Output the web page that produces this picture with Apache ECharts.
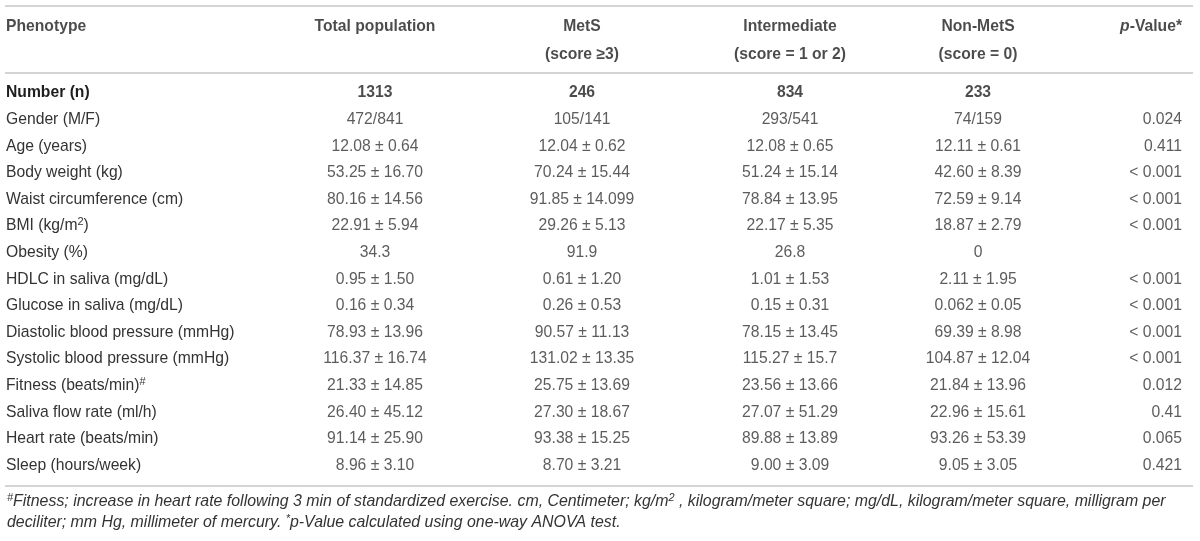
<!DOCTYPE html>
<html>
<head>
<meta charset="utf-8">
<script src="https://cdn.jsdelivr.net/npm/echarts@6.0.0/dist/echarts.min.js"></script>
<style>
  html, body { margin: 0; padding: 0; background: #fff; }
  #table-chart { width: 1200px; height: 541px; }
</style>
</head>
<body>
<div id="table-chart"></div>
<script>
var headTop = ['Phenotype', 'Total population', 'MetS', 'Intermediate', 'Non-MetS', '{it|p}{b|-Value*}'];
var headSub = ['', '', '(score ≥3)', '(score = 1 or 2)', '(score = 0)', ''];

var rowLabels = ['Number (n)', 'Gender (M/F)', 'Age (years)', 'Body weight (kg)', 'Waist circumference (cm)',
  'BMI (kg/m{sup|2})', 'Obesity (%)', 'HDLC in saliva (mg/dL)', 'Glucose in saliva (mg/dL)',
  'Diastolic blood pressure (mmHg)', 'Systolic blood pressure (mmHg)', 'Fitness (beats/min){sup|#}',
  'Saliva flow rate (ml/h)', 'Heart rate (beats/min)', 'Sleep (hours/week)'];

var totalPop = ['1313', '472/841', '12.08 ± 0.64', '53.25 ± 16.70', '80.16 ± 14.56', '22.91 ± 5.94', '34.3',
  '0.95 ± 1.50', '0.16 ± 0.34', '78.93 ± 13.96', '116.37 ± 16.74', '21.33 ± 14.85', '26.40 ± 45.12',
  '91.14 ± 25.90', '8.96 ± 3.10'];
var mets = ['246', '105/141', '12.04 ± 0.62', '70.24 ± 15.44', '91.85 ± 14.099', '29.26 ± 5.13', '91.9',
  '0.61 ± 1.20', '0.26 ± 0.53', '90.57 ± 11.13', '131.02 ± 13.35', '25.75 ± 13.69', '27.30 ± 18.67',
  '93.38 ± 15.25', '8.70 ± 3.21'];
var intermediate = ['834', '293/541', '12.08 ± 0.65', '51.24 ± 15.14', '78.84 ± 13.95', '22.17 ± 5.35', '26.8',
  '1.01 ± 1.53', '0.15 ± 0.31', '78.15 ± 13.45', '115.27 ± 15.7', '23.56 ± 13.66', '27.07 ± 51.29',
  '89.88 ± 13.89', '9.00 ± 3.09'];
var nonMets = ['233', '74/159', '12.11 ± 0.61', '42.60 ± 8.39', '72.59 ± 9.14', '18.87 ± 2.79', '0',
  '2.11 ± 1.95', '0.062 ± 0.05', '69.39 ± 8.98', '104.87 ± 12.04', '21.84 ± 13.96', '22.96 ± 15.61',
  '93.26 ± 53.39', '9.05 ± 3.05'];
var pValues = ['', '0.024', '0.411', '< 0.001', '< 0.001', '< 0.001', '', '< 0.001', '< 0.001', '< 0.001',
  '< 0.001', '0.012', '0.41', '0.065', '0.421'];

var footLine1 = '{s|#}Fitness; increase in heart rate following 3 min of standardized exercise. cm, Centimeter; kg/m{s|2} , kilogram/meter square; mg/dL, kilogram/meter square, milligram per';
var footLine2 = 'deciliter; mm Hg, millimeter of mercury. {s|*}p-Value calculated using one-way ANOVA test.';

tableChart();

function tableChart() {
  var myChart = echarts.init(document.getElementById('table-chart'));
  var font = 'Liberation Sans';
  var fs = 15.7;
  var footFs = 15.9;
  // where each column sits along the hidden x axis (0..1200)
  var colPos = [6, 375, 582, 790, 978, 1182];
  var bodyCols = [totalPop, mets, intermediate, nonMets, pValues];

  var rich = {
    b: { fontWeight: 'bold', fontSize: fs, fontFamily: font, color: '#1e1e1e' },
    it: { fontStyle: 'italic', fontWeight: 'bold', fontSize: fs, fontFamily: font, color: '#1e1e1e' },
    sup: { fontSize: 11, fontFamily: font, color: '#333', verticalAlign: 'top', lineHeight: 19 }
  };
  var footRich = {
    s: { fontSize: 11, fontStyle: 'italic', fontFamily: font, color: '#333', verticalAlign: 'top', lineHeight: 19 }
  };

  var series = [];
  // header cells
  [headTop, headSub].forEach(function(row, r) {
    row.forEach(function(t, c) {
      if (!t) return;
      series.push({
        type: 'scatter', xAxisIndex: 0, yAxisIndex: 0, symbolSize: 0, silent: true,
        data: [{ value: [colPos[c], r], text: t }],
        label: {
          show: true, position: 'inside',
          align: c === 0 ? 'left' : (c === 5 ? 'right' : 'center'),
          formatter: function(p) {
            var t = p.data.text;
            return t.charAt(0) === '{' ? t : '{b|' + t + '}';
          },
          rich: rich
        }
      });
    });
  });
  // body cells
  bodyCols.forEach(function(arr, k) {
    series.push({
      type: 'scatter', xAxisIndex: 1, yAxisIndex: 1, symbolSize: 0, silent: true,
      data: arr.map(function(t, i) { return { value: [colPos[k + 1], i], text: t }; }),
      label: {
        show: true, position: 'inside',
        align: k === 4 ? 'right' : 'center',
        fontFamily: font, fontSize: fs, color: '#333',
        formatter: function(p) { return p.dataIndex === 0 ? '{b|' + p.data.text + '}' : p.data.text; },
        rich: rich
      }
    });
  });

  var option = {
    animation: false,
    grid: [
      { left: 0, right: 0, top: 12, height: 57 },
      { left: 0, right: 0, top: 79.7, height: 399 }
    ],
    xAxis: [
      { gridIndex: 0, type: 'value', min: 0, max: 1200, show: false },
      { gridIndex: 1, type: 'value', min: 0, max: 1200, show: false }
    ],
    yAxis: [
      { gridIndex: 0, type: 'category', inverse: true, data: ['top', 'sub'], show: false },
      {
        gridIndex: 1, type: 'category', inverse: true, data: rowLabels,
        axisLine: { show: false }, axisTick: { show: false }, splitLine: { show: false },
        axisLabel: {
          interval: 0, align: 'left', margin: -6,
          fontFamily: font, fontSize: fs, color: '#333',
          formatter: function(v, i) { return i === 0 ? '{b|' + v + '}' : v; },
          rich: rich
        }
      }
    ],
    series: series,
    graphic: [
      { type: 'line', shape: { x1: 5, y1: 6, x2: 1193, y2: 6 }, style: { stroke: '#d4d4d4', lineWidth: 2 } },
      { type: 'line', shape: { x1: 5, y1: 73, x2: 1193, y2: 73 }, style: { stroke: '#d4d4d4', lineWidth: 2 } },
      { type: 'line', shape: { x1: 5, y1: 486, x2: 1193, y2: 486 }, style: { stroke: '#d4d4d4', lineWidth: 2 } },
      {
        type: 'text', x: 7, y: 502,
        style: {
          text: footLine1, fill: '#333', verticalAlign: 'middle',
          font: 'italic ' + footFs + 'px "Liberation Sans"', rich: footRich
        }
      },
      {
        type: 'text', x: 7, y: 523,
        style: {
          text: footLine2, fill: '#333', verticalAlign: 'middle',
          font: 'italic ' + footFs + 'px "Liberation Sans"', rich: footRich
        }
      }
    ]
  };
  myChart.setOption(option);
}
</script>
</body>
</html>
